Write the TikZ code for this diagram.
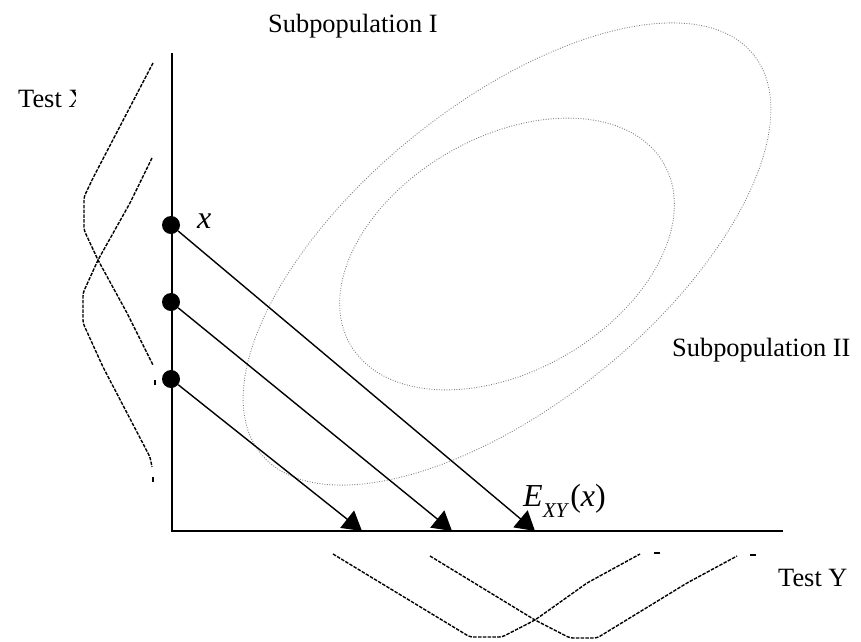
\documentclass[tikz,border=0pt]{standalone}
\usepackage{fontspec}
\setmainfont{Liberation Serif}
\usetikzlibrary{arrows.meta}
\begin{document}
\begin{tikzpicture}[x=1pt,y=-1pt,
  axis/.style={line width=1.8pt},
  proj/.style={line width=1.4pt,-{Triangle[length=19pt,width=22pt]}},
  dotnode/.style={circle,fill=black,inner sep=0pt,minimum size=18pt},
  density/.style={line width=1.4pt,dash pattern=on 3.5pt off 1.3pt,rounded corners=3pt},
  contour/.style={gray,line width=0.9pt,dash pattern=on 0.9pt off 1.6pt},
  lab/.style={anchor=base west,inner sep=0pt,font=\fontsize{26.4}{30}\selectfont},
  mlab/.style={anchor=base west,inner sep=0pt,font=\fontsize{32}{36}\selectfont\itshape}]
\useasboundingbox (0,0) rectangle (861,641);

% contours
\draw[contour,rotate around={39:(507,254)}] (507,254) ellipse [x radius=317pt,y radius=150pt];
\draw[contour,rotate around={30:(507,254)}] (507,254) ellipse [x radius=181pt,y radius=117pt];

% axes
\coordinate (org) at (172,531);
\coordinate (ytop) at (172,53);
\coordinate (xend) at (783,531);
\draw[axis] (ytop) -- (org) -- (xend);

% points on test X
\node[dotnode] (d1) at (171,225) {};
\node[dotnode] (d2) at (171,302) {};
\node[dotnode] (d3) at (171,379) {};
\coordinate (t1) at (535,531);
\coordinate (t2) at (452,531);
\coordinate (t3) at (362,531);
\draw[proj] (d1) -- (t1);
\draw[proj] (d2) -- (t2);
\draw[proj] (d3) -- (t3);

% densities on test X
\draw[density] (153,63) -- (93,178) -- (84,197) -- (84,230) -- (98,260) -- (127,313) -- (153,365);
\draw[line width=1.4pt] (155,380) -- (155,385);
\draw[density] (152,158) -- (130,203) -- (98,260) -- (83,293) -- (83,323) -- (103,367) -- (150,457) -- (152,467);
\draw[line width=1.4pt] (153,477) -- (153,482);

% densities on test Y
\draw[density] (333,554) -- (470,637) -- (502,637) -- (535,620) -- (587,583) -- (640,554);
\draw[line width=1.4pt] (654,553) -- (660,553);
\draw[density] (430,556) -- (535,620) -- (570,638) -- (597,638) -- (687,583) -- (737,556);
\draw[line width=1.4pt] (750,555) -- (756,555);

% labels
\begin{scope}
  \clip (0,60) rectangle (75,120);
  \node[lab] (testx) at (18,107) {Test X};
\end{scope}
\node[lab] (testy) at (778,586) {Test Y};
\node[lab] (sub1) at (268,32) {Subpopulation I};
\node[lab] (sub2) at (672,356) {Subpopulation II};
\node[mlab] (xl) at (197,228) {x};
\node[mlab] (exy) at (523,506) {E\raisebox{-11pt}{\fontsize{21}{24}\selectfont XY}\kern3pt\upshape(\itshape x\upshape)};
\end{tikzpicture}
\end{document}
